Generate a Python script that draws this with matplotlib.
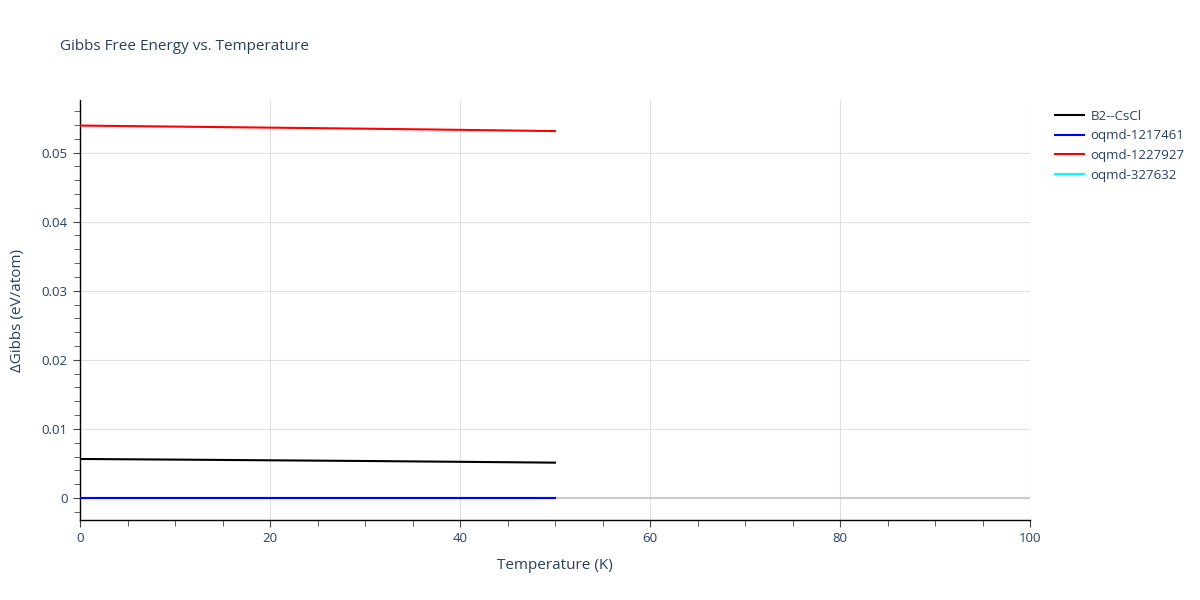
import matplotlib
matplotlib.use("Agg")
import matplotlib.pyplot as plt
from matplotlib.ticker import MultipleLocator, FuncFormatter

# data
temps = [0, 10, 20, 30, 40, 50]
b2_cscl = [0.00565, 0.00556, 0.00546, 0.00536, 0.00524, 0.00512]
oqmd_1217461 = [0, 0, 0, 0, 0, 0]
oqmd_1227927 = [0.0539, 0.05375, 0.0536, 0.05345, 0.05328, 0.0531]
oqmd_327632 = [0, 0, 0, 0, 0, 0]

text_col = '#2a3f5f'
plt.rcParams['font.family'] = ['Open Sans', 'DejaVu Sans']

fig = plt.figure(figsize=(12, 6), dpi=100)
ax = fig.add_axes([80 / 1200, 80 / 600, 950 / 1200, 420 / 600])

ax.plot(temps, oqmd_327632, color='cyan', lw=1.5, label='oqmd-327632', zorder=3)
ax.plot(temps, b2_cscl, color='black', lw=1.5, label='B2--CsCl', zorder=4)
ax.plot(temps, oqmd_1217461, color='blue', lw=1.5, label='oqmd-1217461', zorder=4)
ax.plot(temps, oqmd_1227927, color='red', lw=1.5, label='oqmd-1227927', zorder=4)

ax.set_xlim(0, 100)
ax.set_ylim(-0.00318, 0.0576)
ax.axhline(0, color='#cccccc', lw=1.5, zorder=2)

ax.xaxis.set_major_locator(MultipleLocator(20))
ax.xaxis.set_minor_locator(MultipleLocator(5))
ax.yaxis.set_major_locator(MultipleLocator(0.01))
ax.yaxis.set_minor_locator(MultipleLocator(0.002))
ax.yaxis.set_major_formatter(FuncFormatter(lambda v, p: '0' if abs(v) < 1e-9 else f'{v:g}'))

ax.grid(True, which='major', color='#e0e0e0', lw=0.8, zorder=0)
ax.set_axisbelow(True)
for s in ['top', 'right']:
    ax.spines[s].set_visible(False)
for s in ['left', 'bottom']:
    ax.spines[s].set_color('black')
    ax.spines[s].set_linewidth(1)

ax.tick_params(which='both', direction='out', colors='#444444', labelcolor=text_col, labelsize=9.5)
ax.tick_params(which='major', length=5, pad=4)
ax.tick_params(which='minor', length=4)

ax.set_xlabel('Temperature (K)', fontsize=11, color=text_col, labelpad=9)
ax.set_ylabel('ΔGibbs (eV/atom)', fontsize=11, color=text_col, labelpad=12)

fig.text(60 / 1200, 1 - 46 / 600, 'Gibbs Free Energy vs. Temperature',
         fontsize=11, color=text_col, va='center', ha='left')

handles, labels = ax.get_legend_handles_labels()
order = ['B2--CsCl', 'oqmd-1217461', 'oqmd-1227927', 'oqmd-327632']
hl = {l: h for h, l in zip(handles, labels)}
leg = fig.legend([hl[o] for o in order], order, loc='upper left',
                 bbox_to_anchor=(1043 / 1200, 1 - 98 / 600), frameon=False,
                 fontsize=9.5, handlelength=2.2, handletextpad=0.5, labelspacing=0.5)
for t in leg.get_texts():
    t.set_color(text_col)

fig.savefig('out.png', dpi=100)
